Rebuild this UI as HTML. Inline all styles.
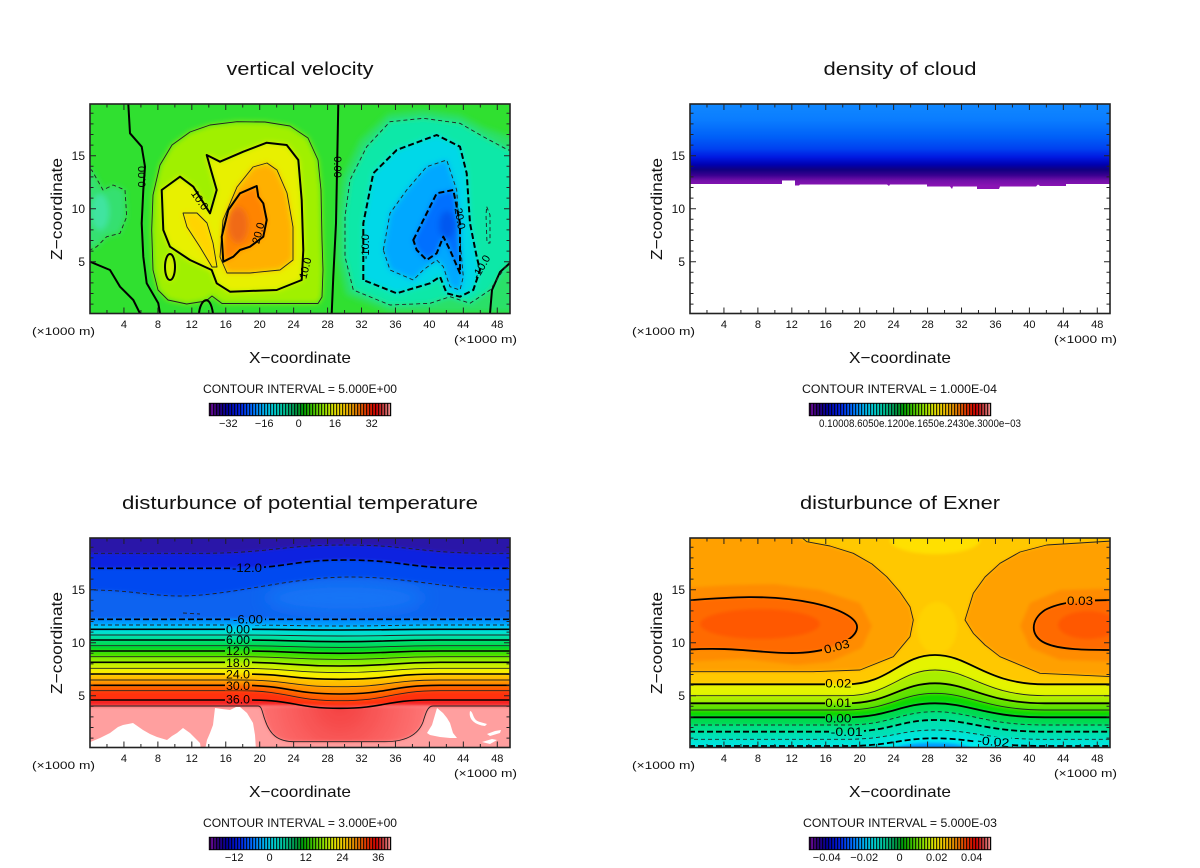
<!DOCTYPE html>
<html><head><meta charset="utf-8"><style>html,body{margin:0;padding:0;background:#fff}svg{display:block}</style></head>
<body>
<svg width="1200" height="868" viewBox="0 0 1200 868" xmlns="http://www.w3.org/2000/svg" font-family="Liberation Sans, sans-serif" fill="#000">
<defs>
<clipPath id="c1"><rect x="90" y="104" width="420" height="209.5"/></clipPath>
<clipPath id="c2"><rect x="690" y="104" width="420" height="209.5"/></clipPath>
<clipPath id="c3"><rect x="90" y="538" width="420" height="209.5"/></clipPath>
<clipPath id="c4"><rect x="690" y="538" width="420" height="209.5"/></clipPath>
<filter id="bl" filterUnits="userSpaceOnUse" x="0" y="0" width="1200" height="868"><feGaussianBlur stdDeviation="3"/></filter>
<filter id="bl2" filterUnits="userSpaceOnUse" x="0" y="0" width="1200" height="868"><feGaussianBlur stdDeviation="1.6"/></filter>
<filter id="bl3" filterUnits="userSpaceOnUse" x="0" y="0" width="1200" height="868"><feGaussianBlur stdDeviation="8"/></filter>
<linearGradient id="cg" gradientUnits="userSpaceOnUse" x1="0" y1="104" x2="0" y2="186">
<stop offset="0" stop-color="#1088ff"/><stop offset="0.2" stop-color="#0a7cff"/><stop offset="0.4" stop-color="#0060f8"/><stop offset="0.55" stop-color="#0040f0"/><stop offset="0.65" stop-color="#0018e0"/><stop offset="0.74" stop-color="#0000b0"/><stop offset="0.8" stop-color="#100080"/><stop offset="0.87" stop-color="#3a0090"/><stop offset="0.93" stop-color="#7010a8"/><stop offset="1" stop-color="#8a14b4"/>
</linearGradient>
<linearGradient id="cb" x1="0" y1="0" x2="1" y2="0">
<stop offset="0" stop-color="#8010b0"/><stop offset="0.04" stop-color="#300070"/><stop offset="0.1" stop-color="#0000a0"/><stop offset="0.17" stop-color="#0020e0"/><stop offset="0.24" stop-color="#0070ff"/><stop offset="0.3" stop-color="#00b0f0"/><stop offset="0.36" stop-color="#00d0d0"/><stop offset="0.42" stop-color="#00c090"/><stop offset="0.48" stop-color="#009040"/><stop offset="0.52" stop-color="#00a000"/><stop offset="0.57" stop-color="#40c000"/><stop offset="0.63" stop-color="#90e000"/><stop offset="0.69" stop-color="#e0e000"/><stop offset="0.75" stop-color="#f0c000"/><stop offset="0.81" stop-color="#e08000"/><stop offset="0.87" stop-color="#e03000"/><stop offset="0.92" stop-color="#d00000"/><stop offset="0.96" stop-color="#c04040"/><stop offset="1" stop-color="#f09090"/>
</linearGradient>
<radialGradient id="dome" gradientUnits="userSpaceOnUse" cx="340" cy="704" r="95">
<stop offset="0" stop-color="#f44040"/><stop offset="1" stop-color="#ff7a7a"/>
</radialGradient>
<pattern id="st" width="3" height="20" patternUnits="userSpaceOnUse"><rect width="1.2" height="20" fill="#000" fill-opacity="0.8"/></pattern>
<g id="tk" fill="none" stroke="#222">
<path stroke-width="1" d="M33.94,209.5v-6M67.88,209.5v-6M101.82,209.5v-6M135.76,209.5v-6M169.7,209.5v-6M203.64,209.5v-6M237.58,209.5v-6M271.52,209.5v-6M305.46,209.5v-6M339.4,209.5v-6M373.34,209.5v-6M407.28,209.5v-6
M33.94,0v6M67.88,0v6M101.82,0v6M135.76,0v6M169.7,0v6M203.64,0v6M237.58,0v6M271.52,0v6M305.46,0v6M339.4,0v6M373.34,0v6M407.28,0v6
M16.97,209.5v-3.5M50.91,209.5v-3.5M84.85,209.5v-3.5M118.79,209.5v-3.5M152.73,209.5v-3.5M186.67,209.5v-3.5M220.61,209.5v-3.5M254.55,209.5v-3.5M288.49,209.5v-3.5M322.43,209.5v-3.5M356.37,209.5v-3.5M390.31,209.5v-3.5
M16.97,0v3.5M50.91,0v3.5M84.85,0v3.5M118.79,0v3.5M152.73,0v3.5M186.67,0v3.5M220.61,0v3.5M254.55,0v3.5M288.49,0v3.5M322.43,0v3.5M356.37,0v3.5M390.31,0v3.5
M0,157.7h6M0,104.7h6M0,51.7h6M420,157.7h-6M420,104.7h-6M420,51.7h-6
M0,200.1h3.5M0,189.5h3.5M0,178.9h3.5M0,168.3h3.5M0,147.1h3.5M0,136.5h3.5M0,125.9h3.5M0,115.3h3.5M0,94.1h3.5M0,83.5h3.5M0,72.9h3.5M0,62.3h3.5M0,41.1h3.5M0,30.5h3.5M0,19.9h3.5M0,9.3h3.5
M420,200.1h-3.5M420,189.5h-3.5M420,178.9h-3.5M420,168.3h-3.5M420,147.1h-3.5M420,136.5h-3.5M420,125.9h-3.5M420,115.3h-3.5M420,94.1h-3.5M420,83.5h-3.5M420,72.9h-3.5M420,62.3h-3.5M420,41.1h-3.5M420,30.5h-3.5M420,19.9h-3.5M420,9.3h-3.5"/>
<rect x="0" y="0" width="420" height="209.5" stroke-width="1.6"/>
</g>
<mask id="m3" maskUnits="userSpaceOnUse" x="0" y="0" width="1200" height="868">
<rect width="1200" height="868" fill="#fff"/>
<g fill="#000">
<rect x="231" y="563" width="33" height="11"/><rect x="232" y="614" width="33" height="11"/>
<rect x="225" y="625" width="27" height="9"/><rect x="225" y="636" width="27" height="9"/>
<rect x="225" y="646.5" width="27" height="9"/><rect x="225" y="658.5" width="27" height="9"/>
<rect x="225" y="670" width="27" height="9"/><rect x="225" y="681.5" width="27" height="9"/>
<rect x="225" y="695" width="27" height="9"/>
</g>
</mask>
<mask id="m4" maskUnits="userSpaceOnUse" x="0" y="0" width="1200" height="868">
<rect width="1200" height="868" fill="#fff"/>
<g fill="#000">
<rect x="822" y="639" width="30" height="14"/><rect x="1066" y="594" width="29" height="13"/>
<rect x="825" y="678" width="27" height="11"/><rect x="825" y="697.5" width="27" height="10"/>
<rect x="825" y="713" width="27" height="10"/><rect x="829" y="726.5" width="35" height="10"/>
<rect x="976" y="736.5" width="35" height="11"/>
</g>
</mask>
</defs>

<!-- ================= PANEL 1: vertical velocity ================= -->
<g clip-path="url(#c1)">
<rect x="80" y="94" width="440" height="230" fill="#30e030"/>
<g filter="url(#bl)">
<path fill="#2ce068" d="M520,140 L485,128 L460,115 L423,110 L388,114 L360,140 L342,178 L337,217 L337,258 L346,295 L390,312 L520,312 Z"/>
<path fill="#10e8a8" d="M520,148 L508,150 L483.3,136.7 L460,123.3 L423.3,118.3 L390,121.7 L366.7,146.7 L350,180 L345,216.7 L345,256.7 L353.3,290 L390,305 L430,303.3 L450,296.7 L470,303.3 L490,290 L503.3,270 L508.3,263.3 L520,262 Z"/>
<path fill="#00d8e8" d="M363.3,280 L363.3,223.3 L373.3,173.3 L396.7,150 L436.7,135 L460,146.7 L466.7,173.3 L470,223.3 L476.7,256.7 L480,270 L473.3,290 L460,296.7 L446.7,293.3 L440,276.7 L430,283.3 L396.7,293.3 Z"/>
<path fill="#00a8ff" d="M383.3,250 L390,213.3 L406.7,190 L426.7,166.7 L446.7,160 L456.7,190 L460,240 L463.3,276.7 L460,290 L450,286.7 L443.3,266.7 L436.7,260 L423.3,270 L413.3,280 L390,270 Z"/>
<path fill="#0070ff" d="M413.3,240 L420,226.7 L436.7,193.3 L453.3,190 L460,223.3 L460,273.3 L450,250 L443.3,236.7 L436.7,253.3 L426.7,260 L416.7,250 Z"/>
<ellipse cx="447" cy="225" rx="8" ry="14" fill="#0058f0"/>
<path fill="#34e070" d="M80,165 L91.7,170 L103,190 L113,185 L125,190 L126.7,216.7 L120,233.3 L106.7,236.7 L96.7,246.7 L80,252 Z"/>
<ellipse cx="100" cy="212" rx="9" ry="18" fill="#40e4a0"/>
<path fill="#a0f000" d="M151.7,230 L153,195 L160,165 L172,145 L190,132 L210,125 L237,121.7 L265,122 L290,126 L308,138 L318,160 L321,190 L322,240 L323,270 L322,297 L318,303.5 L222,303.5 L212,296 L206,301 L186.7,304 L168,300 L158,290 L153,270 Z"/>
<path fill="#e8f000" d="M161.7,190 L180,176.7 L193.3,186.7 L210,213.3 L216.7,190 L210,166.7 L206.7,155 L220,161.7 L243.3,151.7 L266.7,142.7 L286.7,145 L298.3,160 L301.7,200 L303.3,250 L301.7,280 L276.7,290 L230,291.7 L216.7,283.3 L211.7,270 L190,260 L170,246.7 L163.3,230 Z"/>
<ellipse cx="170" cy="267" rx="5" ry="13" fill="#d8f000"/>
<path fill="#ffd400" d="M183,213 L197,213 L207,223 L213,243 L217,267 L212,267 L200,247 L187,227 Z"/>
<path fill="#ffb000" d="M220,257 L223,220 L237,187 L253,167 L267,163 L277,170 L287,193 L293,227 L293,260 L280,270 L250,273 L227,273 Z"/>
<path fill="#ff8400" d="M223.3,261.7 L221.7,236.7 L228.3,210 L240,193.3 L256.7,186 L258.3,196.7 L263.3,203.3 L266.7,220 L263.3,236.7 L250,246.7 L240,250 L233.3,256.7 Z"/>
<ellipse cx="238" cy="225" rx="10" ry="18" fill="#f06a18"/>
</g>
<g fill="none" stroke-linejoin="round">
<g stroke="#222" stroke-width="0.9">
<path d="M151.7,230 L153,195 L160,165 L172,145 L190,132 L210,125 L237,121.7 L265,122 L290,126 L308,138 L318,160 L321,190 L322,240 L323,270 L322,297 L318,303.5 L222,303.5 L212,296 L206,301 L186.7,304 L168,300 L158,290 L153,270 Z"/>
<path d="M183,213 L197,213 L207,223 L213,243 L217,267 L212,267 L200,247 L187,227 Z"/>
<path d="M220,257 L223,220 L237,187 L253,167 L267,163 L277,170 L287,193 L293,227 L293,260 L280,270 L250,273 L227,273 Z"/>
</g>
<g stroke="#000" stroke-width="2">
<path d="M161.7,190 L180,176.7 L193.3,186.7 L210,213.3 L216.7,190 L210,166.7 L206.7,155 L220,161.7 L243.3,151.7 L266.7,142.7 L286.7,145 L298.3,160 L301.7,200 L303.3,250 L301.7,280 L276.7,290 L230,291.7 L216.7,283.3 L211.7,270 L190,260 L170,246.7 L163.3,230 Z"/>
<path d="M223.3,261.7 L221.7,236.7 L228.3,210 L240,193.3 L256.7,186 L258.3,196.7 L263.3,203.3 L266.7,220 L263.3,236.7 L250,246.7 L240,250 L233.3,256.7 Z"/>
<ellipse cx="170" cy="267" rx="5" ry="13"/>
<path d="M128.3,104 L130,133.3 L141.7,146.7 L145,166.7 L143.3,190 L141.7,223.3 L143.3,256.7 L146.7,283.3 L158.3,303.3 L160,313.5"/>
<path d="M90,261.7 L110,270 L120,286.7 L133.3,300 L140,313.5"/>
<path d="M338.3,104 L337.3,156.7 L336,223.3 L333.3,276.7 L331.7,313.5"/>
<path d="M199,313.5 C200,300 210,292 213,313.5"/>
<path d="M490,313.5 L492,290 L500,272 L510,263"/>
</g>
<g stroke="#222" stroke-width="0.9" stroke-dasharray="4 3">
<path d="M512,150 L508,150 L483.3,136.7 L460,123.3 L423.3,118.3 L390,121.7 L366.7,146.7 L350,180 L345,216.7 L345,256.7 L353.3,290 L390,305 L430,303.3 L450,296.7 L470,303.3 L490,290 L503.3,270 L508.3,263.3 L512,262"/>
<path d="M383.3,250 L390,213.3 L406.7,190 L426.7,166.7 L446.7,160 L456.7,190 L460,240 L463.3,276.7 L460,290 L450,286.7 L443.3,266.7 L436.7,260 L423.3,270 L413.3,280 L390,270 Z"/>
<path d="M90,170 L91.7,170 L103,190 L113,185 L125,190 L126.7,216.7 L120,233.3 L106.7,236.7 L96.7,246.7 L90,250"/>
<path d="M486.7,206.7 L490,215 L490,243 L487,243 L486,215 Z"/>
</g>
<g stroke="#000" stroke-width="2" stroke-dasharray="6 3">
<path d="M363.3,280 L363.3,223.3 L373.3,173.3 L396.7,150 L436.7,135 L460,146.7 L466.7,173.3 L470,223.3 L476.7,256.7 L480,270 L473.3,290 L460,296.7 L446.7,293.3 L440,276.7 L430,283.3 L396.7,293.3 Z"/>
<path d="M413.3,240 L420,226.7 L436.7,193.3 L453.3,190 L460,223.3 L460,273.3 L450,250 L443.3,236.7 L436.7,253.3 L426.7,260 L416.7,250 Z"/>
</g>
</g>
<g font-size="11" text-anchor="middle">
<text transform="translate(141.7,176.7) rotate(-90)" dy="4">0.00</text>
<text transform="translate(338,167) rotate(90)" dy="4">0.00</text>
<text transform="translate(200,200) rotate(55)" dy="4">10.0</text>
<text transform="translate(258,233) rotate(-75)" dy="4">20.0</text>
<text transform="translate(305,268) rotate(-75)" dy="4">10.0</text>
<text transform="translate(365,246.7) rotate(-90)" dy="4">-10.0</text>
<text transform="translate(460,216.7) rotate(80)" dy="4">-20.0</text>
<text transform="translate(481,266.7) rotate(-60)" dy="4">-10.0</text>
</g>
</g>
<use href="#tk" transform="translate(90,104)"/>

<!-- ================= PANEL 2: density of cloud ================= -->
<g clip-path="url(#c2)">
<path fill="url(#cg)" d="M685,99 L1115,99 L1115,184 L1066,184 L1066,186 L1040,186 L1038,184.5 L1036,186.5 L1000,186.5 L999,189 L977,189 L977,186.5 L953,186.5 L952,189 L950,186.5 L927,186.5 L927,184.5 L890,184.5 L889,186 L887,184.5 L800,184.5 L799,185.5 L795,185.5 L795,180.5 L782,180.5 L782,184 L685,184 Z"/>
</g>
<use href="#tk" transform="translate(690,104)"/>

<!-- ================= PANEL 3: potential temperature ================= -->
<g clip-path="url(#c3)">
<rect x="80" y="528" width="440" height="230" fill="#ff9f9f"/>
<g filter="url(#bl2)">
<path fill="#f42020" d="M80,528 L80,706 L520,706 L520,528 Z"/>
<path fill="#ff3010" d="M80,528 L80,700 L250,700 C295,700 295,708.3 340,708.3 C385,708.3 385,700 430,700 L520,700 L520,528 Z"/>
<path fill="#ff6000" d="M80,528 L80,690.7 L240,690.7 C290,690.7 290,700.7 340,700.7 C390,700.7 390,690.7 440,690.7 L520,690.7 L520,528 Z"/>
<path fill="#ff9000" d="M80,528 L80,685.3 L240,685.3 C290,685.3 290,694 340,694 C390,694 390,685.3 440,685.3 L520,685.3 L520,528 Z"/>
<path fill="#ffc000" d="M80,528 L80,680 L240,680 C290,680 290,686.7 340,686.7 C390,686.7 390,680 440,680 L520,680 L520,528 Z"/>
<path fill="#f8f000" d="M80,528 L80,674 L240,674 C290,674 290,679.3 340,679.3 C390,679.3 390,674 440,674 L520,674 L520,528 Z"/>
<path fill="#c8f000" d="M80,528 L80,668.3 L240,668.3 C290,668.3 290,672.6 340,672.6 C390,672.6 390,668.3 440,668.3 L520,668.3 L520,528 Z"/>
<path fill="#88ec00" d="M80,528 L80,662.3 L240,662.3 C290,662.3 290,666 340,666 C390,666 390,662.3 440,662.3 L520,662.3 L520,528 Z"/>
<path fill="#40e000" d="M80,528 L80,656.7 L240,656.7 C290,656.7 290,659.4 340,659.4 C390,659.4 390,656.7 440,656.7 L520,656.7 L520,528 Z"/>
<path fill="#00d820" d="M80,528 L80,651 L240,651 C290,651 290,653.3 340,653.3 C390,653.3 390,651 440,651 L520,651 L520,528 Z"/>
<path fill="#00dc60" d="M80,528 L80,645.7 L240,645.7 C290,645.7 290,647.4 340,647.4 C390,647.4 390,645.7 440,645.7 L520,645.7 L520,528 Z"/>
<path fill="#00e0a0" d="M80,528 L80,640 L240,640 C290,640 290,641.7 340,641.7 C390,641.7 390,640 440,640 L520,640 L520,528 Z"/>
<path fill="#00e0d0" d="M80,528 L80,635 L240,635 C290,635 290,636 340,636 C390,636 390,635 440,635 L520,635 L520,528 Z"/>
<path fill="#00c8f8" d="M80,528 L80,629.3 L240,629.3 C290,629.3 290,630 340,630 C390,630 390,629.3 440,629.3 L520,629.3 L520,528 Z"/>
<path fill="#0098ff" d="M80,528 L80,625 L240,625 C290,625 290,626 340,626 C390,626 390,625 440,625 L520,625 L520,528 Z"/>
<path fill="#0a64f0" d="M80,528 L80,619.3 L520,619.3 L520,528 Z"/>
</g>
<ellipse cx="345" cy="598" rx="80" ry="16" fill="#1474f6" filter="url(#bl3)"/>
<g filter="url(#bl2)">
<path fill="#0048f0" d="M80,528 L80,590 L90,590 C130,590 150,596 180,596 C230,596 290,577 350,577 C410,577 450,590 510,590 L520,590 L520,528 Z"/>
<path fill="#1024e0" d="M80,528 L80,568.3 L230,568.3 C290,568.3 290,560 345,560 C400,560 410,568.3 465,568.3 L520,568.3 L520,528 Z"/>
<path fill="#2c14a8" d="M80,528 L80,553.3 L200,553.3 C270,553.3 280,545 345,545 C410,545 420,553.3 490,553.3 L520,553.3 L520,528 Z"/>
<path fill="url(#dome)" d="M258,706 C262,706 262,712 265,720 C270,735 278,741.7 295,741.7 L385,741.7 C405,741.7 418,735 423,722 C426,712 428,706 433,706 Z"/>
</g>
<g fill="#fff">
<path d="M88,750 L88,743 L100,738 L110,733 L118,727 L123,725 L133,723 L143,730 L150,734 L157,737 L167,740 L172,736 L177,733 L183,728 L190,733 L197,740 L200,743 L201,750 Z"/>
<path d="M215,708 L222,709 L230,710 L236,707 L240,707 L247,713 L250,718 L253,723 L255,735 L256,750 L205,750 L207,740 L210,733 L213,725 Z"/>
<path d="M437,708 L443,713 L447,718 L450,723 L453,733 L457,738 L450,738 L440,737 L430,735 L427,733 L432,725 Z"/>
<path d="M470,711 C474,712 472,720 480,722 L487,724 L485,726 C476,725 468,720 470,711 Z"/>
<path d="M487,734 L495,731 L501,730 L500,733 L490,736 Z"/>
<path d="M482,742 L492,739 L497,740 L490,744 Z"/>
</g>
<g fill="none" stroke-linejoin="round" mask="url(#m3)">
<g stroke="#222" stroke-width="0.9">
<path d="M80,690.7 L240,690.7 C290,690.7 290,700.7 340,700.7 C390,700.7 390,690.7 440,690.7 L520,690.7"/>
<path d="M80,680 L240,680 C290,680 290,686.7 340,686.7 C390,686.7 390,680 440,680 L520,680"/>
<path d="M80,668.3 L240,668.3 C290,668.3 290,672.6 340,672.6 C390,672.6 390,668.3 440,668.3 L520,668.3"/>
<path d="M80,656.7 L240,656.7 C290,656.7 290,659.4 340,659.4 C390,659.4 390,656.7 440,656.7 L520,656.7"/>
<path d="M80,645.7 L240,645.7 C290,645.7 290,647.4 340,647.4 C390,647.4 390,645.7 440,645.7 L520,645.7"/>
<path d="M80,635 L240,635 C290,635 290,636 340,636 C390,636 390,635 440,635 L520,635"/>
<path d="M80,706 L258,706 C262,706 262,712 265,720 C270,735 278,741.7 295,741.7 L385,741.7 C405,741.7 418,735 423,722 C426,712 428,706 433,706 L520,706"/>
</g>
<g stroke="#000" stroke-width="1.6">
<path d="M80,700 L250,700 C295,700 295,708.3 340,708.3 C385,708.3 385,700 430,700 L520,700"/>
<path d="M80,685.3 L240,685.3 C290,685.3 290,694 340,694 C390,694 390,685.3 440,685.3 L520,685.3"/>
<path d="M80,674 L240,674 C290,674 290,679.3 340,679.3 C390,679.3 390,674 440,674 L520,674"/>
<path d="M80,662.3 L240,662.3 C290,662.3 290,666 340,666 C390,666 390,662.3 440,662.3 L520,662.3"/>
<path d="M80,651 L240,651 C290,651 290,653.3 340,653.3 C390,653.3 390,651 440,651 L520,651"/>
<path d="M80,640 L240,640 C290,640 290,641.7 340,641.7 C390,641.7 390,640 440,640 L520,640"/>
<path d="M80,629.3 L240,629.3 C290,629.3 290,630 340,630 C390,630 390,629.3 440,629.3 L520,629.3"/>
</g>
<g stroke="#222" stroke-width="0.9" stroke-dasharray="4 3">
<path d="M80,625 L240,625 C290,625 290,626 340,626 C390,626 390,625 440,625 L520,625"/>
<path d="M80,590 L90,590 C130,590 150,596 180,596 C230,596 290,577 350,577 C410,577 450,590 510,590 L520,590"/>
<path d="M80,553.3 L200,553.3 C270,553.3 280,545 345,545 C410,545 420,553.3 490,553.3 L520,553.3"/>
<path d="M183,613 L200,614"/>
</g>
<g stroke="#000" stroke-width="1.6" stroke-dasharray="6 3">
<path d="M80,619.3 L520,619.3"/>
<path d="M80,568.3 L230,568.3 C290,568.3 290,560 345,560 C400,560 410,568.3 465,568.3 L520,568.3"/>
</g>
</g>
<g font-size="12" text-anchor="middle">
<text x="247" y="572" textLength="30" lengthAdjust="spacingAndGlyphs">-12.0</text>
<text x="248" y="623.5" textLength="30" lengthAdjust="spacingAndGlyphs">-6.00</text>
<text x="238" y="633.5" textLength="24" lengthAdjust="spacingAndGlyphs">0.00</text>
<text x="238" y="644" textLength="24" lengthAdjust="spacingAndGlyphs">6.00</text>
<text x="238" y="655" textLength="24" lengthAdjust="spacingAndGlyphs">12.0</text>
<text x="238" y="667" textLength="24" lengthAdjust="spacingAndGlyphs">18.0</text>
<text x="238" y="678.5" textLength="24" lengthAdjust="spacingAndGlyphs">24.0</text>
<text x="238" y="690" textLength="24" lengthAdjust="spacingAndGlyphs">30.0</text>
<text x="238" y="703.5" textLength="24" lengthAdjust="spacingAndGlyphs">36.0</text>
</g>
</g>
<use href="#tk" transform="translate(90,538)"/>

<!-- ================= PANEL 4: Exner ================= -->
<g clip-path="url(#c4)">
<rect x="680" y="528" width="440" height="230" fill="#00ecf0"/>
<g filter="url(#bl2)">
<ellipse cx="933" cy="752" rx="42" ry="9" fill="#0098ff"/>
<path fill="#00e4d8" d="M680,528 L680,746 L846,746 C890,746 900,738.3 935,738.3 C970,738.3 985,746 1045,746 L1120,746 L1120,528 Z"/>
<path fill="#00e0b4" d="M680,528 L680,739.3 L846,739.3 C890,739.3 900,730 935,730 C970,730 985,739.3 1045,739.3 L1120,739.3 L1120,528 Z"/>
<path fill="#00e088" d="M680,528 L680,731.7 L846,731.7 C890,731.7 900,720 935,720 C970,720 985,731.7 1045,731.7 L1120,731.7 L1120,528 Z"/>
<path fill="#00da50" d="M680,528 L680,725 L846,725 C890,725 900,711.7 935,711.7 C970,711.7 985,725 1045,725 L1120,725 L1120,528 Z"/>
<path fill="#10d800" d="M680,528 L680,717.3 L846,717.3 C890,717.3 900,703.3 935,703.3 C970,703.3 985,717.3 1045,717.3 L1120,717.3 L1120,528 Z"/>
<path fill="#60e200" d="M680,528 L680,710 L846,710 C890,710 900,693.3 935,693.3 C970,693.3 985,710 1045,710 L1120,710 L1120,528 Z"/>
<path fill="#a8ee00" d="M680,528 L680,703.3 L846,703.3 C890,703.3 900,683.3 935,683.3 C970,683.3 985,703.3 1045,703.3 L1120,703.3 L1120,528 Z"/>
<path fill="#e4f400" d="M680,528 L680,695.7 L846,695.7 C890,695.7 900,670 935,670 C970,670 985,695.7 1045,695.7 L1120,695.7 L1120,528 Z"/>
<path fill="#ffc800" d="M680,528 L680,684.3 L846,684.3 C890,684.3 900,655 935,655 C970,655 985,684.3 1045,684.3 L1120,684.3 L1120,528 Z"/>
<path fill="#ffa000" d="M680,528 L800,528 L800,538 L806.7,541.7 L830,546 L853.3,553.3 L872,564 L886.7,576.7 L900,592 L910,606.7 L913.3,620 L910,636.7 L893.3,656.7 L860,670 L813.3,671.7 L680,671.7 Z"/>
<path fill="#ffa000" d="M1120,528 L1110,528 L1110,541 L1046.7,545 L1020,552 L1000,563.3 L985,577 L973.3,593.3 L965,620 L973.3,633.3 L985,645 L1000,656.7 L1040,673.3 L1120,676.7 Z"/>
<ellipse cx="935" cy="540" rx="45" ry="14" fill="#ffe000"/>
<ellipse cx="937" cy="628" rx="20" ry="26" fill="#ffd200"/>
<path fill="#ff8c00" d="M680,588 L730,585 L775,584 L820,590 L860,603 L872,626 L862,648 L830,662 L796,665 L745,659 L680,662 Z"/>
<path fill="#ff8c00" d="M1120,588 L1060,590 L1030,603 L1020,626 L1030,648 L1060,660 L1120,662 Z"/>
<path fill="#ff6a00" d="M680,601 C730,597 770,594 813,603 C845,610 858,620 857,628 C856,640 830,652 797,653 C760,654 740,646 680,650 Z"/>
<path fill="#ff6a00" d="M1120,600 C1080,600 1060,602 1045,610 C1030,620 1030,636 1045,643 C1060,650 1085,650 1120,650 Z"/>
<ellipse cx="760" cy="624" rx="60" ry="15" fill="#ff5800"/>
<ellipse cx="1088" cy="625" rx="30" ry="14" fill="#ff5800"/>
</g>
<g fill="none" stroke-linejoin="round" mask="url(#m4)">
<g stroke="#222" stroke-width="0.9">
<path d="M800,536 L806.7,541.7 L830,546 L853.3,553.3 L872,564 L886.7,576.7 L900,592 L910,606.7 L913.3,620 L910,636.7 L893.3,656.7 L860,670 L813.3,671.7 L680,671.7"/>
<path d="M1112,541 L1046.7,545 L1020,552 L1000,563.3 L985,577 L973.3,593.3 L965,620 L973.3,633.3 L985,645 L1000,656.7 L1040,673.3 L1112,676.7"/>
<path d="M680,695.7 L846,695.7 C890,695.7 900,670 935,670 C970,670 985,695.7 1045,695.7 L1120,695.7"/>
<path d="M680,710 L846,710 C890,710 900,693.3 935,693.3 C970,693.3 985,710 1045,710 L1120,710"/>
</g>
<g stroke="#000" stroke-width="1.8">
<path d="M680,601 C730,597 770,594 813,603 C845,610 858,620 857,628 C856,640 830,652 797,653 C760,654 740,646 680,650"/>
<path d="M1120,600 C1080,600 1060,602 1045,610 C1030,620 1030,636 1045,643 C1060,650 1085,650 1120,650"/>
<path d="M680,684.3 L846,684.3 C890,684.3 900,655 935,655 C970,655 985,684.3 1045,684.3 L1120,684.3"/>
<path d="M680,703.3 L846,703.3 C890,703.3 900,683.3 935,683.3 C970,683.3 985,703.3 1045,703.3 L1120,703.3"/>
<path d="M680,717.3 L846,717.3 C890,717.3 900,703.3 935,703.3 C970,703.3 985,717.3 1045,717.3 L1120,717.3"/>
</g>
<g stroke="#222" stroke-width="0.9" stroke-dasharray="4 3">
<path d="M680,725 L846,725 C890,725 900,711.7 935,711.7 C970,711.7 985,725 1045,725 L1120,725"/>
<path d="M680,739.3 L846,739.3 C890,739.3 900,730 935,730 C970,730 985,739.3 1045,739.3 L1120,739.3"/>
</g>
<g stroke="#000" stroke-width="1.8" stroke-dasharray="6 3">
<path d="M680,731.7 L846,731.7 C890,731.7 900,720 935,720 C970,720 985,731.7 1045,731.7 L1120,731.7"/>
<path d="M680,746 L846,746 C890,746 900,738.3 935,738.3 C970,738.3 985,746 1045,746 L1120,746"/>
</g>
</g>
<g font-size="12" text-anchor="middle">
<text transform="translate(836.7,646.7) rotate(-15)" dy="4" textLength="26" lengthAdjust="spacingAndGlyphs">0.03</text>
<text x="1080" y="605" textLength="26" lengthAdjust="spacingAndGlyphs">0.03</text>
<text x="838.3" y="687.5" textLength="26" lengthAdjust="spacingAndGlyphs">0.02</text>
<text x="838.3" y="707" textLength="26" lengthAdjust="spacingAndGlyphs">0.01</text>
<text x="838.3" y="722.5" textLength="26" lengthAdjust="spacingAndGlyphs">0.00</text>
<text x="846.7" y="736" textLength="32" lengthAdjust="spacingAndGlyphs">-0.01</text>
<text transform="translate(993.3,741.7) rotate(5)" dy="4" textLength="32" lengthAdjust="spacingAndGlyphs">-0.02</text>
</g>
</g>
<use href="#tk" transform="translate(690,538)"/>

<!-- ================= TEXT: titles, axes ================= -->
<g font-size="18" text-anchor="middle" fill="#111">
<text x="300" y="75" textLength="147" lengthAdjust="spacingAndGlyphs">vertical velocity</text>
<text x="900" y="75" textLength="153" lengthAdjust="spacingAndGlyphs">density of cloud</text>
<text x="300" y="509" textLength="356" lengthAdjust="spacingAndGlyphs">disturbunce of potential temperature</text>
<text x="900" y="509" textLength="200" lengthAdjust="spacingAndGlyphs">disturbunce of Exner</text>
</g>
<g font-size="16" text-anchor="middle" fill="#111">
<text x="300" y="363" textLength="102" lengthAdjust="spacingAndGlyphs">X−coordinate</text>
<text x="900" y="363" textLength="102" lengthAdjust="spacingAndGlyphs">X−coordinate</text>
<text x="300" y="797" textLength="102" lengthAdjust="spacingAndGlyphs">X−coordinate</text>
<text x="900" y="797" textLength="102" lengthAdjust="spacingAndGlyphs">X−coordinate</text>
<text transform="translate(62,209) rotate(-90)" textLength="102" lengthAdjust="spacingAndGlyphs">Z−coordinate</text>
<text transform="translate(662,209) rotate(-90)" textLength="102" lengthAdjust="spacingAndGlyphs">Z−coordinate</text>
<text transform="translate(62,643) rotate(-90)" textLength="102" lengthAdjust="spacingAndGlyphs">Z−coordinate</text>
<text transform="translate(662,643) rotate(-90)" textLength="102" lengthAdjust="spacingAndGlyphs">Z−coordinate</text>
</g>
<g font-size="11" fill="#111">
<text x="32" y="335" textLength="63" lengthAdjust="spacingAndGlyphs">(×1000 m)</text>
<text x="454" y="343" textLength="63" lengthAdjust="spacingAndGlyphs">(×1000 m)</text>
<text x="632" y="335" textLength="63" lengthAdjust="spacingAndGlyphs">(×1000 m)</text>
<text x="1054" y="343" textLength="63" lengthAdjust="spacingAndGlyphs">(×1000 m)</text>
<text x="32" y="769" textLength="63" lengthAdjust="spacingAndGlyphs">(×1000 m)</text>
<text x="454" y="777" textLength="63" lengthAdjust="spacingAndGlyphs">(×1000 m)</text>
<text x="632" y="769" textLength="63" lengthAdjust="spacingAndGlyphs">(×1000 m)</text>
<text x="1054" y="777" textLength="63" lengthAdjust="spacingAndGlyphs">(×1000 m)</text>
</g>
<!-- x tick labels -->
<g font-size="11" text-anchor="middle" fill="#111">
<text x="123.9" y="328">4</text><text x="157.9" y="328">8</text><text x="191.8" y="328">12</text><text x="225.8" y="328">16</text><text x="259.7" y="328">20</text><text x="293.6" y="328">24</text><text x="327.6" y="328">28</text><text x="361.5" y="328">32</text><text x="395.5" y="328">36</text><text x="429.4" y="328">40</text><text x="463.3" y="328">44</text><text x="497.3" y="328">48</text>
<text x="723.9" y="328">4</text><text x="757.9" y="328">8</text><text x="791.8" y="328">12</text><text x="825.8" y="328">16</text><text x="859.7" y="328">20</text><text x="893.6" y="328">24</text><text x="927.6" y="328">28</text><text x="961.5" y="328">32</text><text x="995.5" y="328">36</text><text x="1029.4" y="328">40</text><text x="1063.3" y="328">44</text><text x="1097.3" y="328">48</text>
<text x="123.9" y="762">4</text><text x="157.9" y="762">8</text><text x="191.8" y="762">12</text><text x="225.8" y="762">16</text><text x="259.7" y="762">20</text><text x="293.6" y="762">24</text><text x="327.6" y="762">28</text><text x="361.5" y="762">32</text><text x="395.5" y="762">36</text><text x="429.4" y="762">40</text><text x="463.3" y="762">44</text><text x="497.3" y="762">48</text>
<text x="723.9" y="762">4</text><text x="757.9" y="762">8</text><text x="791.8" y="762">12</text><text x="825.8" y="762">16</text><text x="859.7" y="762">20</text><text x="893.6" y="762">24</text><text x="927.6" y="762">28</text><text x="961.5" y="762">32</text><text x="995.5" y="762">36</text><text x="1029.4" y="762">40</text><text x="1063.3" y="762">44</text><text x="1097.3" y="762">48</text>
</g>
<!-- y tick labels -->
<g font-size="12" text-anchor="end" fill="#111">
<text x="85" y="160">15</text><text x="85" y="213">10</text><text x="85" y="266">5</text>
<text x="685" y="160">15</text><text x="685" y="213">10</text><text x="685" y="266">5</text>
<text x="85" y="594">15</text><text x="85" y="647">10</text><text x="85" y="700">5</text>
<text x="685" y="594">15</text><text x="685" y="647">10</text><text x="685" y="700">5</text>
</g>

<!-- ================= COLORBARS ================= -->
<g font-size="11.5" fill="#111">
<text x="203" y="393" textLength="194" lengthAdjust="spacingAndGlyphs">CONTOUR INTERVAL = 5.000E+00</text>
<text x="802" y="393" textLength="195" lengthAdjust="spacingAndGlyphs">CONTOUR INTERVAL = 1.000E-04</text>
<text x="203" y="827" textLength="194" lengthAdjust="spacingAndGlyphs">CONTOUR INTERVAL = 3.000E+00</text>
<text x="803" y="827" textLength="194" lengthAdjust="spacingAndGlyphs">CONTOUR INTERVAL = 5.000E-03</text>
</g>
<g>
<rect x="209.3" y="403.3" width="181.4" height="12.4" fill="url(#cb)"/><rect x="209.3" y="403.3" width="181.4" height="12.4" fill="url(#st)"/><rect x="209.3" y="403.3" width="181.4" height="12.4" fill="none" stroke="#000" stroke-width="1"/>
<rect x="809.3" y="403.3" width="181.4" height="12.4" fill="url(#cb)"/><rect x="809.3" y="403.3" width="181.4" height="12.4" fill="url(#st)"/><rect x="809.3" y="403.3" width="181.4" height="12.4" fill="none" stroke="#000" stroke-width="1"/>
<rect x="209.3" y="837.3" width="181.4" height="12.4" fill="url(#cb)"/><rect x="209.3" y="837.3" width="181.4" height="12.4" fill="url(#st)"/><rect x="209.3" y="837.3" width="181.4" height="12.4" fill="none" stroke="#000" stroke-width="1"/>
<rect x="809.3" y="837.3" width="181.4" height="12.4" fill="url(#cb)"/><rect x="809.3" y="837.3" width="181.4" height="12.4" fill="url(#st)"/><rect x="809.3" y="837.3" width="181.4" height="12.4" fill="none" stroke="#000" stroke-width="1"/>
</g>
<g font-size="11" text-anchor="middle" fill="#111">
<text x="228.3" y="427">−32</text><text x="264.2" y="427">−16</text><text x="298.7" y="427">0</text><text x="335" y="427">16</text><text x="371.7" y="427">32</text>
<text x="920" y="427" textLength="202" lengthAdjust="spacingAndGlyphs">0.10008.6050e.1200e.1650e.2430e.3000e−03</text>
<text x="234.2" y="861">−12</text><text x="269.5" y="861">0</text><text x="305.8" y="861">12</text><text x="342.5" y="861">24</text><text x="378.3" y="861">36</text>
<text x="826.7" y="861">−0.04</text><text x="864.2" y="861">−0.02</text><text x="899.5" y="861">0</text><text x="936.7" y="861">0.02</text><text x="971.7" y="861">0.04</text>
</g>
</svg>
</body></html>
